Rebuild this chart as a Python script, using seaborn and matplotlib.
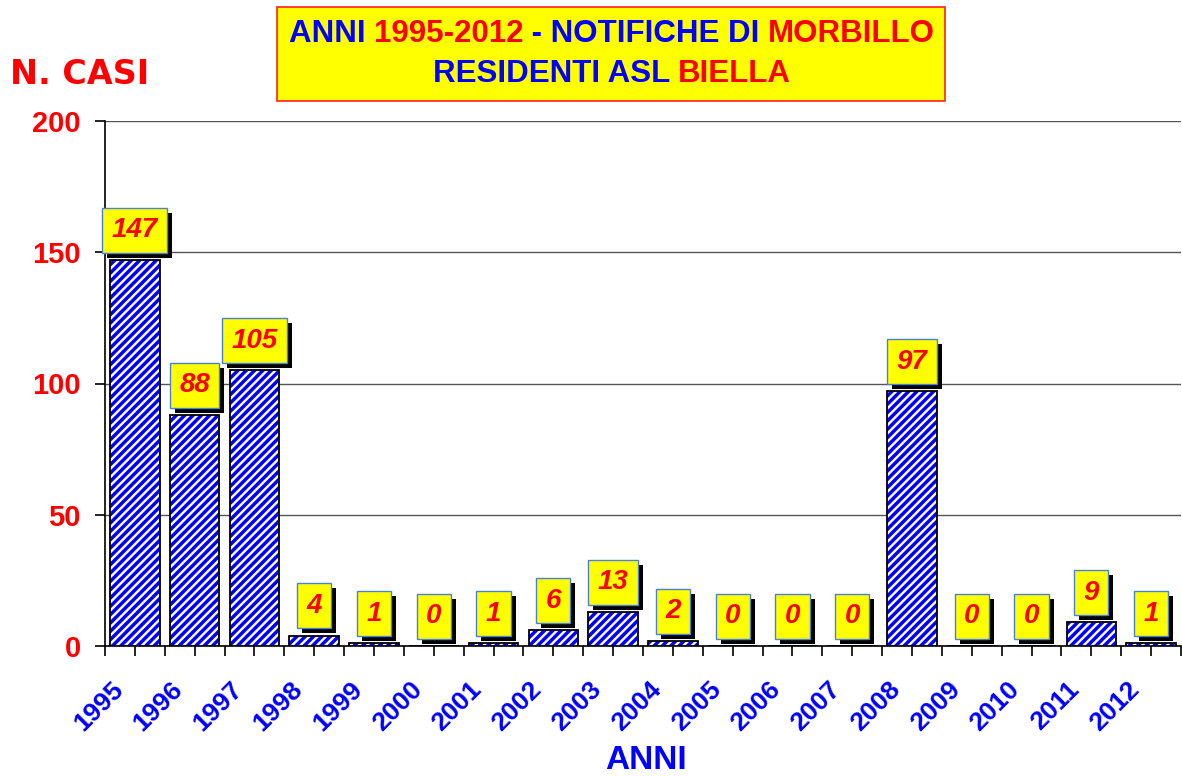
import matplotlib
matplotlib.use("Agg")
import matplotlib.pyplot as plt
import matplotlib.transforms as mtransforms
import matplotlib.patheffects as pe
import seaborn as sns
import pandas as pd
from matplotlib.patches import Rectangle
from matplotlib.offsetbox import TextArea, HPacker, VPacker, AnchoredOffsetbox

years = [str(y) for y in range(1995, 2013)]
cases = [147, 88, 105, 4, 1, 0, 1, 6, 13, 2, 0, 0, 0, 97, 0, 0, 9, 1]
yticks = [0, 50, 100, 150, 200]

sns.set_theme(style="white")
plt.rcParams['font.family'] = ['Liberation Sans', 'DejaVu Sans']
plt.rcParams['hatch.linewidth'] = 2.5

df = pd.DataFrame({"anno": years, "casi": cases})

fig = plt.figure(figsize=(11.82, 7.76), dpi=100)
ax = fig.add_axes([105/1182, 1-646/776, 1076/1182, 525/776])

sns.barplot(data=df, x="anno", y="casi", ax=ax, width=0.83, color="white",
            saturation=1, zorder=3)

for p in list(ax.patches):
    p.set_facecolor("white")
    p.set_edgecolor("#0000ff")
    p.set_hatch("////")
    p.set_linewidth(0)
    ax.add_patch(Rectangle(p.get_xy(), p.get_width(), p.get_height(),
                           fill=False, edgecolor="black", linewidth=1.3, zorder=4))

ax.set_xlim(-0.5, len(years)-0.5)
ax.set_ylim(0, 200)
ax.set_yticks(yticks)
ax.yaxis.grid(True, color="#555555", linewidth=1.0, zorder=0)
ax.set_axisbelow(True)
for s in ["top", "right"]:
    ax.spines[s].set_visible(False)
ax.spines["left"].set_color("black")
ax.spines["bottom"].set_color("black")
ax.spines["left"].set_linewidth(1.2)
ax.spines["bottom"].set_linewidth(1.2)

ax.tick_params(axis="y", which="major", direction="out", length=7.5, width=1.2,
               color="black", left=True, pad=10, labelsize=21, labelcolor="#ff0000")
ax.set_xticks(range(len(years)))
ax.set_xticks([i - 0.5 for i in range(len(years)+1)], minor=True)
ax.tick_params(axis="x", which="both", direction="out", length=7, width=1.2,
               color="black", bottom=True, labelsize=19, labelcolor="#0000ff")
ax.set_xticklabels(years, rotation=45, ha="right", va="top", rotation_mode="anchor")
shift = mtransforms.ScaledTranslation(-24/100, -17/100, fig.dpi_scale_trans)
for lab in ax.get_xticklabels():
    lab.set_transform(lab.get_transform() + shift)
for lab in ax.get_yticklabels() + ax.get_xticklabels():
    lab.set_fontweight("bold")

ax.set_ylabel("")
ax.set_xlabel("")
fig.text(646/1182, 1-769/776, "ANNI", fontsize=24, fontweight="bold", color="#0000ff",
         ha="center", va="baseline")

# value labels with drop shadow on the box
for i, v in enumerate(cases):
    t = ax.annotate(str(v), xy=(i, v), xytext=(0, 12), textcoords="offset points",
                    ha="center", va="bottom", fontsize=20, fontweight="bold", style="italic",
                    color="#ff0000", zorder=6,
                    bbox=dict(boxstyle="square,pad=0.34", fc="#ffff00", ec="#4a7fe0", lw=1))
    t.get_bbox_patch().set_path_effects([
        pe.SimplePatchShadow(offset=(3.6, -3.6), shadow_rgbFace="black", alpha=1.0),
        pe.Normal()])

# title box
fig.patches.append(Rectangle((277/1182, 1-101/776), 668/1182, 94/776,
                             transform=fig.transFigure, fc="#ffff00", ec="#ff2020", lw=1.2,
                             zorder=1))

def seg(t, c):
    return TextArea(t, textprops=dict(color=c, fontsize=22.5, fontweight="bold"))

line1 = HPacker(children=[seg("ANNI ", "#0000ff"), seg("1995-2012", "#ff0000"),
                          seg(" - NOTIFICHE DI ", "#0000ff"), seg("MORBILLO", "#ff0000")],
                sep=0, pad=0, align="baseline")
line2 = HPacker(children=[seg("RESIDENTI ASL ", "#0000ff"), seg("BIELLA", "#ff0000")],
                sep=0, pad=0, align="baseline")
box = VPacker(children=[line1, line2], sep=7, pad=0, align="center")
ab = AnchoredOffsetbox(loc="center", child=box, frameon=False,
                       bbox_to_anchor=(612/1182, 1-54/776), bbox_transform=fig.transFigure,
                       pad=0, borderpad=0)
ab.set_zorder(3)
fig.add_artist(ab)

fig.text(10/1182, 1-74/776, "N. CASI", fontsize=24, fontweight="bold", color="#ff0000",
         ha="left", va="center", family=['DejaVu Sans'])

fig.savefig("out.png", dpi=100)
